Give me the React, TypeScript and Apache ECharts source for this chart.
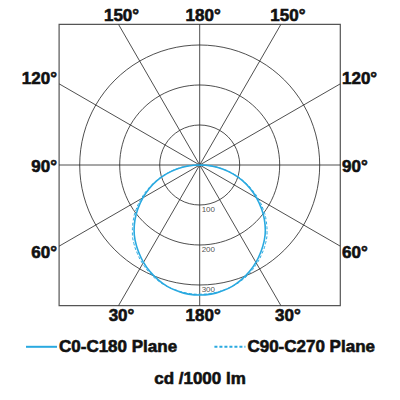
import React, { useEffect, useRef } from "react";
import * as echarts from "echarts";

// gamma angles (deg from nadir) and luminous intensity in cd/1000 lm
const gammaAngles = [0, 5, 10, 15, 20, 25, 30, 35, 40, 45, 50, 55, 60, 65, 70, 75, 80, 85, 90];
const c0c180 = [325, 324, 320, 314, 305, 294, 281, 266, 250, 232, 211, 188, 164, 139, 113, 86, 58, 29, 0];
const c90c270 = [323, 322, 319, 314, 307, 297, 285, 271, 256, 238, 217, 194, 169, 143, 116, 88, 59, 30, 0];

const radiusTicks = [100, 200, 300];
const spokeAngles = [0, 30, 60, 90, 120, 150];
const seriesNames = ["C0-C180 Plane", "C90-C270 Plane"];
const unitLabel = "cd /1000 lm";

const CX = 199.7;
const CY = 165;
const HALF = 140.6; // half side of the square frame, px
const GRID_R = 120; // px radius of the 300 cd circle
const GRID_MAX = 300;
const PX_PER_CD = GRID_R / GRID_MAX;
const OUTER_R = HALF / Math.cos(Math.PI / 6); // px, reaches frame along the 30° spokes
const OUTER_MAX = OUTER_R / PX_PER_CD;
const BLUE = "#29a9e0";
const FONT = '"Liberation Sans", Arial, sans-serif';

function mirrored(values: number[]) {
    const pts: number[][] = [];
    for (let i = gammaAngles.length - 1; i > 0; i--) {
        pts.push([values[i], 360 - gammaAngles[i]]);
    }
    for (let i = 0; i < gammaAngles.length; i++) {
        pts.push([values[i], gammaAngles[i]]);
    }
    return pts;
}

function spokeLength(a: number) {
    const rad = (a * Math.PI) / 180;
    const m = Math.max(Math.abs(Math.cos(rad)), Math.abs(Math.sin(rad)));
    return HALF / PX_PER_CD / m;
}

const hiddenAngle = (idx: number) => ({
    type: "value",
    polarIndex: idx,
    min: 0,
    max: 360,
    startAngle: -90,
    axisLine: { show: false },
    axisTick: { show: false },
    axisLabel: { show: false },
    splitLine: { show: false },
});

export default function App() {
    const chartRef = useRef<HTMLDivElement>(null);

    useEffect(() => {
        if (!chartRef.current) return;
        const chart = echarts.init(chartRef.current, undefined, { renderer: "svg" });

        const t30 = HALF * Math.tan(Math.PI / 6);
        const labelFont = {
            fontSize: 17,
            fontWeight: "bold" as const,
            fontFamily: FONT,
            fill: "#111",
            stroke: "#111",
            lineWidth: 0.6,
        };
        const angleLabels = [
            { text: "150°", x: CX - t30 + 3, y: 15, align: "center" },
            { text: "180°", x: CX + 3.5, y: 15, align: "center" },
            { text: "150°", x: CX + t30 + 7, y: 15, align: "center" },
            { text: "30°", x: CX - t30 + 3, y: 315, align: "center" },
            { text: "180°", x: CX + 3.5, y: 315, align: "center" },
            { text: "30°", x: CX + t30 + 7, y: 315, align: "center" },
            { text: "120°", x: 57, y: CY - t30 - 5, align: "right" },
            { text: "90°", x: 57, y: CY + 1, align: "right" },
            { text: "60°", x: 57, y: CY + t30 + 6, align: "right" },
            { text: "120°", x: 342, y: CY - t30 - 5, align: "left" },
            { text: "90°", x: 342, y: CY + 1, align: "left" },
            { text: "60°", x: 342, y: CY + t30 + 6, align: "left" },
        ];

        const spokeSeries = spokeAngles.map((a) => ({
            type: "line" as const,
            coordinateSystem: "polar",
            polarIndex: 0,
            data: [
                [spokeLength(a), a],
                [spokeLength(a), a + 180],
            ],
            symbol: "none",
            clip: false,
            silent: true,
            z: 1,
            lineStyle: { color: "#222", width: 0.8 },
        }));

        const boldText = {
            fontSize: 17,
            fontWeight: "bold",
            fontFamily: FONT,
            color: "#111",
            textBorderColor: "#111",
            textBorderWidth: 0.6,
        };

        const option: any = {
            animation: false,
            polar: [
                { center: [CX, CY], radius: OUTER_R },
                { center: [CX, CY], radius: GRID_R },
            ],
            angleAxis: [hiddenAngle(0), hiddenAngle(1)],
            radiusAxis: [
                {
                    type: "value",
                    polarIndex: 0,
                    min: 0,
                    max: OUTER_MAX,
                    axisLine: { show: false },
                    axisTick: { show: false },
                    axisLabel: { show: false },
                    splitLine: { show: false },
                },
                {
                    type: "value",
                    polarIndex: 1,
                    min: 0,
                    max: GRID_MAX,
                    interval: 100,
                    axisLine: { show: false },
                    axisTick: { show: false },
                    axisLabel: { show: false },
                    splitLine: { show: true, lineStyle: { color: "#222", width: 0.8 } },
                },
            ],
            legend: {
                left: 25,
                top: 338,
                itemWidth: 31,
                itemHeight: 14,
                itemGap: 36,
                selectedMode: false,
                padding: 0,
                data: seriesNames,
                itemStyle: { opacity: 0 },
                textStyle: { ...boldText, padding: [0, 0, 0, -3] },
            },
            title: {
                text: unitLabel,
                left: "center",
                top: 370,
                padding: 0,
                textStyle: boldText,
            },
            graphic: [
                {
                    type: "rect",
                    silent: true,
                    shape: { x: CX - HALF, y: CY - HALF, width: HALF * 2, height: HALF * 2 },
                    style: { fill: "none", stroke: "#555", lineWidth: 1.2 },
                    z: 0,
                },
                ...angleLabels.map((l) => ({
                    type: "text",
                    silent: true,
                    style: { ...labelFont, text: l.text, x: l.x, y: l.y, align: l.align, verticalAlign: "middle" },
                })),
            ],
            series: [
                ...spokeSeries,
                {
                    name: seriesNames[0],
                    type: "line",
                    coordinateSystem: "polar",
                    polarIndex: 0,
                    data: mirrored(c0c180),
                    symbol: "none",
                    smooth: true,
                    clip: false,
                    z: 3,
                    lineStyle: { color: BLUE, width: 1.6 },
                    itemStyle: { color: BLUE },
                },
                {
                    name: seriesNames[1],
                    type: "line",
                    coordinateSystem: "polar",
                    polarIndex: 0,
                    data: mirrored(c90c270),
                    symbol: "none",
                    smooth: true,
                    clip: false,
                    z: 2,
                    lineStyle: { color: BLUE, width: 1, type: [3, 2] },
                    itemStyle: { color: BLUE },
                },
                {
                    type: "scatter",
                    coordinateSystem: "polar",
                    polarIndex: 1,
                    data: radiusTicks.map((r) => [r, 0]),
                    symbolSize: 0.1,
                    silent: true,
                    z: 4,
                    itemStyle: { color: "transparent" },
                    label: {
                        show: true,
                        position: [2, 1],
                        align: "left",
                        verticalAlign: "top",
                        fontSize: 8,
                        fontFamily: FONT,
                        color: "#222",
                        formatter: (p: any) => String(p.value[0]),
                    },
                },
            ],
        };

        chart.setOption(option);
        return () => chart.dispose();
    }, []);

    return (
        <div
            ref={chartRef}
            style={{ position: "fixed", left: 0, top: 0, width: 400, height: 400, background: "#fff" }}
        />
    );
}
